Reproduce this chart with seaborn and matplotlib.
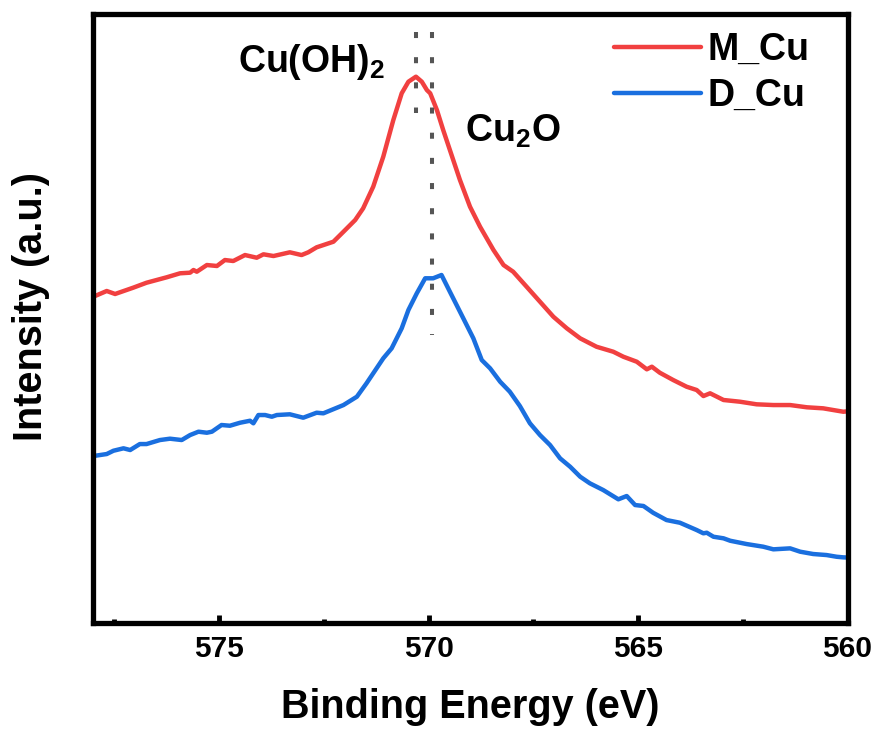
import numpy as np
import pandas as pd
import matplotlib
matplotlib.use("Agg")
import matplotlib.pyplot as plt
from matplotlib.ticker import MultipleLocator
import seaborn as sns

# Cu 2p3/2 region, intensity in arbitrary units
m_cu_energy = [578.00, 577.68, 577.48, 577.05, 576.73, 576.25, 575.93, 575.69, 575.61, 575.53,
               575.29, 575.05, 574.86, 574.66, 574.38, 574.10, 573.94, 573.70, 573.31, 573.03,
               572.87, 572.67, 572.27, 572.03, 571.75, 571.56, 571.32, 571.08, 570.84, 570.64,
               570.48, 570.30, 570.16, 570.04, 569.96, 569.80, 569.65, 569.49, 569.25, 569.01,
               568.77, 568.45, 568.21, 567.98, 567.66, 567.34, 567.02, 566.70, 566.38, 565.99,
               565.59, 565.35, 565.03, 564.79, 564.67, 564.48, 564.16, 563.84, 563.60, 563.44,
               563.28, 562.96, 562.57, 562.17, 561.77, 561.37, 560.97, 560.58, 560.10, 560.00]
m_cu_intensity = [53.54, 54.48, 53.99, 55.02, 55.84, 56.73, 57.39, 57.49, 57.93, 57.65,
                  58.75, 58.59, 59.57, 59.41, 60.39, 59.95, 60.51, 60.23, 60.84, 60.39,
                  60.84, 61.66, 62.58, 64.22, 66.15, 68.07, 71.62, 76.55, 82.58, 86.97,
                  88.87, 89.70, 88.87, 87.51, 86.97, 84.22, 80.94, 77.65, 72.72, 68.33,
                  65.04, 61.22, 58.75, 57.65, 55.19, 52.72, 50.25, 48.35, 46.70, 45.32,
                  44.50, 43.68, 42.86, 41.61, 42.04, 41.05, 39.85, 38.75, 38.21, 37.22,
                  37.67, 36.57, 36.29, 35.86, 35.74, 35.74, 35.37, 35.20, 34.64, 34.70]

d_cu_energy = [578.00, 577.68, 577.52, 577.28, 577.12, 576.89, 576.73, 576.41, 576.17, 575.89,
               575.69, 575.49, 575.29, 575.17, 574.94, 574.74, 574.50, 574.26, 574.18, 574.06,
               573.90, 573.74, 573.62, 573.31, 572.99, 572.67, 572.51, 572.03, 571.71, 571.48,
               571.08, 570.88, 570.64, 570.48, 570.28, 570.08, 569.89, 569.69, 569.49, 569.17,
               568.93, 568.73, 568.53, 568.29, 568.06, 567.82, 567.58, 567.34, 567.10, 566.86,
               566.62, 566.38, 566.15, 565.83, 565.47, 565.27, 565.07, 564.87, 564.64, 564.32,
               564.00, 563.60, 563.44, 563.36, 563.20, 562.96, 562.80, 562.41, 562.01, 561.77,
               561.37, 561.13, 560.82, 560.50, 560.26, 560.10, 560.00]
d_cu_intensity = [27.36, 27.69, 28.23, 28.63, 28.35, 29.33, 29.33, 29.99, 30.21, 29.99,
                  30.81, 31.36, 31.19, 31.36, 32.46, 32.34, 32.83, 33.16, 32.74, 34.10,
                  34.10, 33.82, 34.10, 34.22, 33.66, 34.48, 34.38, 35.74, 37.11, 39.31,
                  43.42, 45.06, 48.35, 51.36, 54.10, 56.57, 56.57, 57.11, 54.36, 49.99,
                  46.70, 43.14, 41.77, 39.57, 37.93, 35.58, 32.74, 30.81, 29.17, 26.98,
                  25.60, 23.96, 22.88, 21.77, 20.25, 20.79, 19.31, 19.15, 18.04, 16.84,
                  16.40, 15.20, 14.66, 14.76, 14.10, 13.84, 13.44, 12.90, 12.46, 12.03,
                  12.19, 11.64, 11.26, 11.09, 10.81, 10.71, 10.68]

series_names = ["M_Cu", "D_Cu"]
series_colors = ["#F14040", "#1A6FDF"]

# reference positions of the two Cu species
peak_labels = ["Cu(OH)$_{2}$", "Cu$_{2}$O"]
peak_energy = [570.30, 569.92]
peak_line_top = [97.04, 97.04]
peak_line_bottom = [83.8, 47.25]
peak_label_pos = [(574.55, 90.47), (569.13, 78.96)]

df = pd.concat([
    pd.DataFrame({"energy": m_cu_energy, "intensity": m_cu_intensity, "sample": series_names[0]}),
    pd.DataFrame({"energy": d_cu_energy, "intensity": d_cu_intensity, "sample": series_names[1]}),
], ignore_index=True)

sns.set_style("ticks")
plt.rcParams["font.family"] = ["Liberation Sans", "DejaVu Sans"]
plt.rcParams["font.weight"] = "bold"
plt.rcParams["text.color"] = "black"
plt.rcParams["axes.labelcolor"] = "black"
plt.rcParams["xtick.color"] = "black"
plt.rcParams["ytick.color"] = "black"
plt.rcParams["mathtext.fontset"] = "custom"
plt.rcParams["mathtext.rm"] = "Liberation Sans:bold"
plt.rcParams["mathtext.bf"] = "Liberation Sans:bold"
plt.rcParams["mathtext.it"] = "Liberation Sans:bold"
plt.rcParams["mathtext.default"] = "rm"

fig = plt.figure(figsize=(8.77, 7.33), dpi=100)
ax = fig.add_axes([0.1064, 0.1507, 0.8600, 0.8302])

sns.lineplot(data=df, x="energy", y="intensity", hue="sample", hue_order=series_names,
             palette=series_colors, linewidth=3.2, estimator=None, errorbar=None,
             sort=False, ax=ax)

for e, top, bot in zip(peak_energy, peak_line_top, peak_line_bottom):
    ax.plot([e, e], [top, bot], color="#555555", linewidth=2.9,
            linestyle=(0, (1.5, 4.75)), solid_capstyle="butt", dash_capstyle="butt")

for text, (tx, ty) in zip(peak_labels, peak_label_pos):
    ax.text(tx, ty, text, fontsize=27, fontweight="bold", color="black",
            ha="left", va="baseline")

ax.set_xlim(578, 560)
ax.set_ylim(0, 100)
ax.xaxis.set_major_locator(MultipleLocator(5))
ax.xaxis.set_minor_locator(MultipleLocator(2.5))
ax.set_yticks([])
ax.tick_params(axis="x", which="major", direction="in", length=6, width=3.5,
               labelsize=21.5, pad=9, top=False, colors="black")
ax.tick_params(axis="x", which="minor", direction="in", length=3, width=3.5, top=False)
for s in ax.spines.values():
    s.set_linewidth(3.8)
    s.set_color("black")

ax.set_xlabel("Binding Energy (eV)", fontsize=28.5, fontweight="bold", labelpad=18)
ax.set_ylabel("Intensity (a.u.)", fontsize=28.5, fontweight="bold", labelpad=28)
ax.yaxis.set_label_coords(-0.057, 0.52)

leg = ax.legend(loc="upper right", bbox_to_anchor=(0.949, 0.97), frameon=False,
                fontsize=27, handlelength=2.3, handletextpad=0.17, labelspacing=0.26,
                borderpad=0, borderaxespad=0)
for line in leg.get_lines():
    line.set_linewidth(3.2)
for t in leg.get_texts():
    t.set_color("black")

fig.savefig("out.png", dpi=100)
